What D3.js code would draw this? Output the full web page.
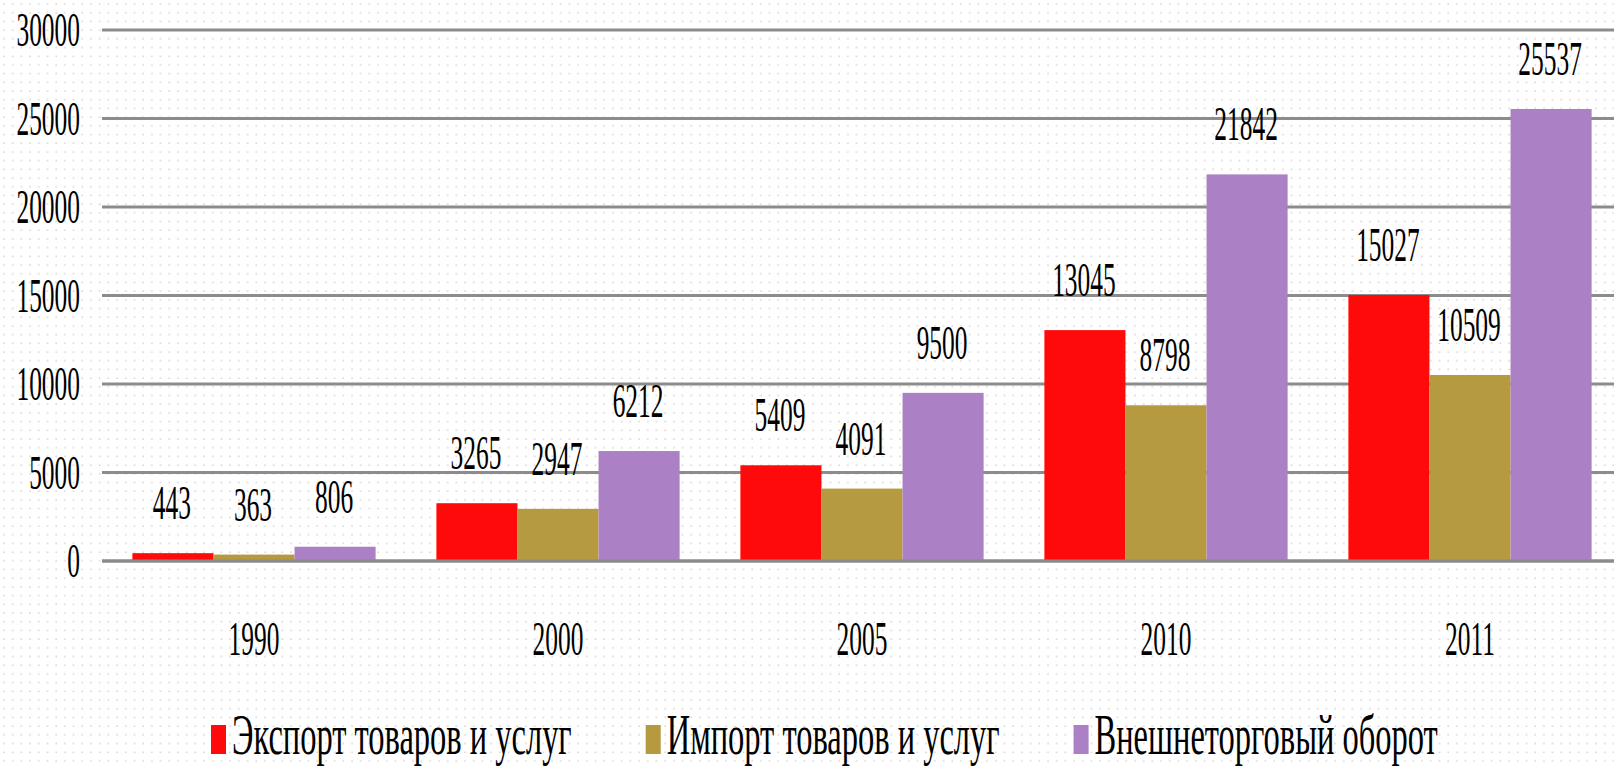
<!DOCTYPE html>
<html>
<head>
<meta charset="utf-8">
<script src="https://cdn.jsdelivr.net/npm/d3@7"></script>
<style>
  body { margin: 0; background: #fff; }
  svg { display: block; }
</style>
</head>
<body>
<svg width="1614" height="767"></svg>
<script>
// data
var years = ["1990", "2000", "2005", "2010", "2011"];
var seriesNames = ["Экспорт товаров и услуг", "Импорт товаров и услуг", "Внешнеторговый оборот"];
var exportVals = [443, 3265, 5409, 13045, 15027];
var importVals = [363, 2947, 4091, 8798, 10509];
var turnoverVals = [806, 6212, 9500, 21842, 25537];
var yTicks = [0, 5000, 10000, 15000, 20000, 25000, 30000];
var colors = ["#ff0a0a", "#b59a40", "#ab80c4"];

var svg = d3.select("svg"),
    width = 1614,
    height = 767;
var fontFam = "'Liberation Serif', 'Times New Roman', serif";

var allVals = [exportVals, importVals, turnoverVals];
var rows = years.map(function(y, i) {
    return { year: y, vals: allVals.map(function(s) { return s[i]; }) };
});

// dotted background
var defs = svg.append("defs");
var pat = defs.append("pattern")
    .attr("id", "dots")
    .attr("width", 8.7)
    .attr("height", 8.7)
    .attr("patternUnits", "userSpaceOnUse");
pat.append("circle").attr("cx", 4).attr("cy", 4).attr("r", 0.9).attr("fill", "#d6d6d6");
svg.append("rect").attr("width", width).attr("height", height).attr("fill", "url(#dots)");

var x0 = d3.scaleBand()
    .domain(years)
    .range([102, 1622])
    .paddingInner(0.2)
    .paddingOuter(0.1);
var x1 = d3.scaleBand()
    .domain([0, 1, 2])
    .range([0, x0.bandwidth()]);
var y = d3.scaleLinear()
    .domain([0, 30000])
    .range([561, 30]);

// text squeezed sideways, like the original
function narrowText(sel, x, yy, txt, size, anchor, sx) {
    return sel.append("text")
        .attr("transform", "translate(" + x + "," + yy + ") scale(" + sx + ",1)")
        .attr("text-anchor", anchor)
        .style("font-family", fontFam)
        .style("font-size", size + "px")
        .style("fill", "#000")
        .text(txt);
}

// gridlines + y labels
var grid = svg.append("g").attr("class", "grid");
yTicks.forEach(function(t) {
    grid.append("line")
        .attr("x1", 102).attr("x2", width)
        .attr("y1", y(t)).attr("y2", y(t))
        .attr("stroke", "#8c8c8c")
        .attr("stroke-width", 3);
    narrowText(grid, 80, y(t) + 16, t, 48, "end", 0.53);
});

// bars
var groups = svg.append("g").selectAll("g")
    .data(rows)
    .enter().append("g")
    .attr("transform", function(d) { return "translate(" + x0(d.year) + ",0)"; });

groups.selectAll("rect")
    .data(function(d) { return d.vals; })
    .enter().append("rect")
    .attr("x", function(d, i) { return x1(i); })
    .attr("y", function(d) { return y(d); })
    .attr("width", x1.bandwidth())
    .attr("height", function(d) { return y(0) - y(d); })
    .attr("fill", function(d, i) { return colors[i]; });

groups.each(function(d) {
    var g = d3.select(this);
    d.vals.forEach(function(v, i) {
        narrowText(g, x1(i) + x1.bandwidth() / 2 - 1, y(v) - 34, v, 48, "middle", 0.53);
    });
});

// zero line on top of the bars
svg.append("line")
    .attr("x1", 102).attr("x2", width)
    .attr("y1", y(0)).attr("y2", y(0))
    .attr("stroke", "#8c8c8c")
    .attr("stroke-width", 3);

// category labels
years.forEach(function(yr) {
    narrowText(svg, x0(yr) + x0.bandwidth() / 2, 655, yr, 48, "middle", 0.53);
});

// legend
var legend = svg.append("g").attr("class", "legend");
var lx = 211;
seriesNames.forEach(function(name, i) {
    legend.append("rect")
        .attr("x", lx).attr("y", 725)
        .attr("width", 15).attr("height", 29)
        .attr("fill", colors[i]);
    var t = narrowText(legend, lx + 21, 754, name, 56, "start", 0.58);
    var w = t.node().getComputedTextLength() * 0.58;
    lx = lx + 21 + w + 74;
});
</script>
</body>
</html>
